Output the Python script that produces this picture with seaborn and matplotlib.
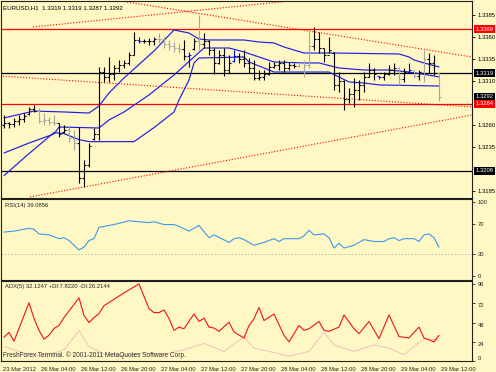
import matplotlib
matplotlib.use("Agg")
import matplotlib.pyplot as plt
from matplotlib import transforms
import numpy as np
import pandas as pd
import seaborn as sns

sns.set_style("white")
plt.rcParams["font.family"] = ["Liberation Sans", "DejaVu Sans"]

W, H = 496, 372
BG = "#FFF7C4"
FS = 4.2

# ---------------- price bars (EURUSD H1) ----------------
highs = [1.3271,1.3263,1.3268,1.3271,1.3274,1.3281,1.3283,1.3279,1.3274,1.3269,
         1.3271,1.3262,1.3260,1.3258,1.3254,1.3258,1.3220,1.3240,1.3257,1.3326,
         1.3326,1.3337,1.3328,1.3334,1.3334,1.3343,1.3366,1.3360,1.3358,1.3359,
         1.3360,1.3365,1.3360,1.3357,1.3354,1.3353,1.3357,1.3343,1.3359,1.3385,
         1.3365,1.3357,1.3348,1.3345,1.3348,1.3340,1.3345,1.3342,1.3345,1.3336,
         1.3334,1.3322,1.3322,1.3332,1.3332,1.3334,1.3334,1.3332,1.3330,1.3332,
         1.3334,1.3368,1.3371,1.3366,1.3348,1.3360,1.3343,1.3320,1.3311,1.3302,
         1.3313,1.3311,1.3320,1.3330,1.3325,1.3316,1.3320,1.3328,1.3330,1.3326,
         1.3325,1.3330,1.3322,1.3322,1.3345,1.3342,1.3340,1.3319]
lows = [1.3257,1.3257,1.3258,1.3260,1.3263,1.3271,1.3275,1.3262,1.3260,1.3260,
        1.3260,1.3246,1.3251,1.3241,1.3232,1.3194,1.3190,1.3212,1.3243,1.3243,
        1.3309,1.3309,1.3311,1.3320,1.3325,1.3328,1.3340,1.3353,1.3353,1.3351,
        1.3351,1.3353,1.3348,1.3345,1.3343,1.3342,1.3334,1.3326,1.3345,1.3345,
        1.3348,1.3340,1.3318,1.3329,1.3316,1.3319,1.3332,1.3330,1.3326,1.3319,
        1.3311,1.3311,1.3311,1.3317,1.3325,1.3322,1.3320,1.3322,1.3325,1.3326,
        1.3315,1.3325,1.3345,1.3342,1.3332,1.3342,1.3300,1.3298,1.3277,1.3285,
        1.3281,1.3288,1.3298,1.3315,1.3311,1.3312,1.3311,1.3317,1.3317,1.3305,
        1.3309,1.3319,1.3313,1.3311,1.3309,1.3319,1.3317,1.3287]
opens = [1.3260,1.3262,1.3261,1.3265,1.3267,1.3272,1.3278,1.3276,1.3265,1.3266,
         1.3263,1.3262,1.3252,1.3254,1.3245,1.3240,1.3200,1.3215,1.3244,1.3250,
         1.3320,1.3315,1.3318,1.3325,1.3328,1.3330,1.3340,1.3357,1.3356,1.3355,
         1.3355,1.3358,1.3358,1.3352,1.3350,1.3347,1.3346,1.3338,1.3346,1.3356,
         1.3352,1.3356,1.3345,1.3330,1.3340,1.3322,1.3333,1.3338,1.3335,1.3330,
         1.3325,1.3313,1.3315,1.3318,1.3326,1.3328,1.3330,1.3325,1.3328,1.3327,
         1.3330,1.3328,1.3350,1.3358,1.3348,1.3340,1.3342,1.3305,1.3310,1.3290,
         1.3295,1.3300,1.3305,1.3315,1.3322,1.3316,1.3314,1.3318,1.3322,1.3325,
         1.3312,1.3320,1.3322,1.3316,1.3320,1.3335,1.3330,1.3319]
closes = [1.3262,1.3261,1.3265,1.3267,1.3270,1.3278,1.3276,1.3265,1.3266,1.3263,
          1.3262,1.3250,1.3254,1.3245,1.3240,1.3200,1.3215,1.3236,1.3250,1.3320,
          1.3315,1.3318,1.3325,1.3328,1.3330,1.3340,1.3357,1.3356,1.3355,1.3355,
          1.3358,1.3358,1.3352,1.3350,1.3347,1.3346,1.3338,1.3340,1.3356,1.3352,
          1.3356,1.3345,1.3330,1.3340,1.3322,1.3330,1.3338,1.3335,1.3330,1.3325,
          1.3313,1.3315,1.3318,1.3326,1.3328,1.3330,1.3325,1.3328,1.3327,1.3330,
          1.3328,1.3350,1.3358,1.3348,1.3340,1.3345,1.3305,1.3310,1.3290,1.3295,
          1.3300,1.3305,1.3315,1.3322,1.3318,1.3314,1.3318,1.3322,1.3325,1.3312,
          1.3320,1.3323,1.3316,1.3320,1.3335,1.3330,1.3319,1.3292]
bar_colors = list("kkkkkkk" "gggg" "kk" "gg" "kkkkkkkkkkkk" "b" "kkk" "ggggg" "k" "b" "k" "g"
                  "kkkkkk" "b" "kkkkkkkkkkkk" "ggg" "kkkkkkkkkkkkk" "b" "kkk" "g" "k" "b"
                  "g" "k" "g" "kk" "g")

# ---------------- band lines (bar index, price) ----------------
up_bar = [0, 6, 12, 17, 19, 21, 24, 30, 34, 37, 39, 41, 48, 51, 54, 56, 60, 66, 79, 81, 82, 84, 87]
up_val = [1.32680, 1.32759, 1.32748, 1.32736, 1.32816, 1.32964, 1.33134, 1.33441, 1.33680,
          1.33645, 1.33577, 1.33566, 1.33566, 1.33543, 1.33532, 1.33486, 1.33418, 1.33418,
          1.33407, 1.33373, 1.33339, 1.33305, 1.33260]
mid_bar = [0, 5, 10, 11, 19, 21, 24, 29, 34, 38, 40, 45, 48, 51, 54, 60, 63, 67, 72, 77, 81, 86, 87]
mid_val = [1.32282, 1.32395, 1.32498, 1.32577, 1.32566, 1.32657, 1.32748, 1.32941, 1.33168,
           1.33373, 1.33475, 1.33475, 1.33430, 1.33373, 1.33316, 1.33305, 1.33305, 1.33248,
           1.33225, 1.33225, 1.33202, 1.33157, 1.33145]
low_bar = [0, 5, 10, 12, 15, 17, 26, 30, 34, 35, 37, 38, 39, 48, 49, 54, 65, 67, 69, 72, 75, 87]
low_val = [1.32025, 1.32275, 1.32514, 1.32502, 1.32434, 1.32411, 1.32411, 1.32570, 1.32748,
           1.32884, 1.33111, 1.33305, 1.33361, 1.33373, 1.33316, 1.33202, 1.33202, 1.33145,
           1.33089, 1.33077, 1.33055, 1.33043]

# trend lines (two points each: bar index, price)
trend_bars = [[5.2, 93.6], [5.8, 57.2], [24.6, 93.6], [-0.8, 93.6]]
trend_vals = [[1.31782, 1.32714], [1.33714, 1.34009], [1.33998, 1.33373], [1.33157, 1.32805]]

# horizontal levels
level_vals = [1.3369, 1.3319, 1.3284, 1.3208]
level_cols = ["#FF0000", "#000000", "#FF0000", "#000000"]
tag_vals = [1.3369, 1.3319, 1.3292, 1.3284, 1.3208]
tag_text = ["1.3369", "1.3319", "1.3292", "1.3284", "1.3208"]
tag_cols = ["#FF0000", "#000000", "#000000", "#FF0000", "#000000"]

price_ticks = [1.3185, 1.3235, 1.3260, 1.3310, 1.3335, 1.3360, 1.3385]

# ---------------- RSI ----------------
rsi_bar = [0,2,5,6,7,9,11,12,13,15,16,17,18,19,21,22,25,27,29,30,32,34,35,37,39,41,42,45,46,47,
           48,49,50,52,54,55,56,59,60,61,62,64,65,66,67,68,70,71,72,74,76,77,78,79,80,82,83,84,85,86,87]
rsi_val = [59.5,60.8,64.6,63.3,57.0,55.7,50.6,51.9,48.1,35.4,39.2,48.1,50.6,65.8,68.4,69.6,74.7,73.4,72.2,73.4,
           69.6,69.6,67.1,60.8,68.4,51.9,55.7,45.6,50.6,51.9,49.4,45.6,41.8,45.6,50.6,46.8,50.6,50.6,54.4,62.0,
           55.7,57.0,51.9,38.0,44.3,38.0,41.8,45.6,49.4,46.8,46.8,50.6,51.9,48.1,50.6,50.6,46.8,55.7,57.0,51.9,39.1]

# ---------------- ADX ----------------
adx_bar = [0,1,2,3,4,5,6,7,8,9,10,11,12,15,16,17,18,19,20,24,27,29,30,31,32,33,34,35,36,38,
           39,40,41,42,43,45,46,48,49,50,51,52,54,56,57,59,60,61,63,64,65,67,68,70,71,73,75,77,79,81,83,84,86,87]
adx_val = [29.6,35.8,24.7,40.7,56.8,72.8,53.1,38.3,27.2,32.1,40.7,44.4,54.3,79.0,56.8,48.1,54.3,59.3,69.1,85.2,
           96.3,65.4,60.5,60.5,63.8,53.1,38.3,42.4,40.3,58.8,49.4,53.5,42.4,41.2,37.0,48.6,36.2,28.8,44.4,52.7,
           67.0,50.6,58.8,32.1,23.9,44.4,38.3,40.3,49.4,38.3,37.0,42.4,57.6,40.3,34.2,49.4,28.0,57.6,30.5,28.8,
           42.4,28.8,23.9,32.1]
mdi_bar = [0,4,8,12,15,17,20,24,28,32,36,40,44,48,50,53,57,61,64,66,70,74,77,80,84,87]
mdi_val = [18,10,6,14,38,18,9,6,10,8,14,22,12,30,16,12,6,12,36,20,12,20,16,8,28,26.2]

date_ticks = [-0.6, 7, 15, 23, 31, 39, 47, 55, 63, 71, 79, 87]
date_labels = ["23 Mar 2012", "26 Mar 04:00", "26 Mar 12:00", "26 Mar 20:00", "27 Mar 04:00",
               "27 Mar 12:00", "27 Mar 20:00", "28 Mar 04:00", "28 Mar 12:00", "28 Mar 20:00",
               "29 Mar 04:00", "29 Mar 12:00"]

# ---------------- figure ----------------
fig = plt.figure(figsize=(W / 100, H / 100), dpi=100, facecolor=BG)


def add_ax(top, bottom):
    a = fig.add_axes([1 / W, 1 - bottom / H, 471 / W, (bottom - top) / H], facecolor=BG)
    for s in a.spines.values():
        s.set_color("#202020")
        s.set_linewidth(0.8)
    return a


ax = add_ax(1, 198)
ax_rsi = add_ax(199, 280)
ax_adx = add_ax(281, 361)

XL = (-0.6, 93.6)

# --- main panel ---
for v, c in zip(level_vals, level_cols):
    ax.axhline(v, color=c, lw=0.9, zorder=1)

for tb, tv in zip(trend_bars, trend_vals):
    ax.plot(tb, tv, color="#FF0000", lw=0.8, ls=(0, (1, 1.6)), zorder=1)

band = pd.concat([
    pd.DataFrame({"bar": up_bar, "price": up_val, "line": "up"}),
    pd.DataFrame({"bar": mid_bar, "price": mid_val, "line": "mid"}),
    pd.DataFrame({"bar": low_bar, "price": low_val, "line": "low"}),
])
sns.lineplot(data=band, x="bar", y="price", units="line", estimator=None, sort=False,
             color="#1E1EE6", lw=0.85, ax=ax, legend=False, zorder=2)

cmap = {"k": "#000000", "g": "#A6A6A6", "b": "#0000FF"}
cols = [cmap[c] for c in bar_colors]
idx = np.arange(len(highs))
ax.vlines(idx, lows, highs, colors=cols, lw=0.8, zorder=3)
ax.hlines(opens, idx - 0.4, idx, colors=cols, lw=0.8, zorder=3)
ax.hlines(closes, idx, idx + 0.4, colors=cols, lw=0.8, zorder=3)

ax.set_xlim(*XL)
ax.set_ylim(1.317705, 1.34009)
ax.set_xticks([])
ax.yaxis.tick_right()
ax.set_yticks(price_ticks)
ax.set_yticklabels([f"{t:.4f}" for t in price_ticks], fontsize=FS)
ax.tick_params(axis="y", length=2, width=0.6, pad=2.0, colors="black")

tr = transforms.blended_transform_factory(ax.transAxes, ax.transData)
for v, t, c in zip(tag_vals, tag_text, tag_cols):
    ax.text(1.007, v, t, transform=tr, fontsize=FS, color="white", va="center", ha="left",
            bbox=dict(boxstyle="square,pad=0.3", fc=c, ec="none"), clip_on=False, zorder=5)

ax.text(0.005, 0.965, "EURUSD,H1  1.3319 1.3319 1.3287 1.3292", transform=ax.transAxes,
        fontsize=4.4, color="black", va="center", ha="left")

# --- RSI panel ---
ax_rsi.axhline(30, color="#B8B8B8", lw=0.6, ls=(0, (2, 2)))
sns.lineplot(x=rsi_bar, y=rsi_val, ax=ax_rsi, color="#3A9AF0", lw=0.8, estimator=None, sort=False)
ax_rsi.set_xlim(*XL)
ax_rsi.set_ylim(-5, 104)
ax_rsi.set_xticks([])
ax_rsi.yaxis.tick_right()
ax_rsi.set_yticks([0, 30, 70, 100])
ax_rsi.set_yticklabels(["0", "30", "70", "100"], fontsize=FS)
ax_rsi.tick_params(axis="y", length=2, width=0.6, pad=2.0)
ax_rsi.text(0.008, 0.92, "RSI(14) 39.0856", transform=ax_rsi.transAxes, fontsize=FS,
            va="center", ha="left")

# --- ADX panel ---
sns.lineplot(x=mdi_bar, y=mdi_val, ax=ax_adx, color="#F5C6C0", lw=0.8, estimator=None, sort=False)
sns.lineplot(x=adx_bar, y=adx_val, ax=ax_adx, color="#EE1515", lw=0.8, estimator=None, sort=False)
ax_adx.set_xlim(*XL)
ax_adx.set_ylim(0, 100)
ax_adx.yaxis.tick_right()
ax_adx.set_yticks([0, 24, 48, 72, 96])
ax_adx.set_yticklabels(["0", "24", "48", "72", "96"], fontsize=FS)
for lbl in ax_adx.get_yticklabels():
    t = lbl.get_text()
    lbl.set_va("bottom" if t == "0" else ("center" if t == "96" else "top"))
ax_adx.tick_params(axis="y", length=2, width=0.6, pad=2.0)
ax_adx.set_xticks(date_ticks)
ax_adx.set_xticklabels(date_labels, fontsize=FS, ha="left")
ax_adx.tick_params(axis="x", length=3, width=0.6, pad=1.0)
off = transforms.ScaledTranslation(2 / 100, 0, fig.dpi_scale_trans)
for lbl in ax_adx.get_xticklabels():
    lbl.set_transform(lbl.get_transform() + off)
ax_adx.text(0.008, 0.93, "ADX(5) 32.1247 +DI:7.8220 -DI:26.2144", transform=ax_adx.transAxes,
            fontsize=FS, va="center", ha="left")
ax_adx.text(0.004, 0.07, "FreshForex Terminal. \u00a9 2001-2011 MetaQuotes Software Corp.",
            transform=ax_adx.transAxes, fontsize=4.7, color="#303030", va="center", ha="left")

for a in (ax, ax_rsi, ax_adx):
    a.set_xlabel("")
    a.set_ylabel("")

fig.savefig("out.png", dpi=100, facecolor=BG)
